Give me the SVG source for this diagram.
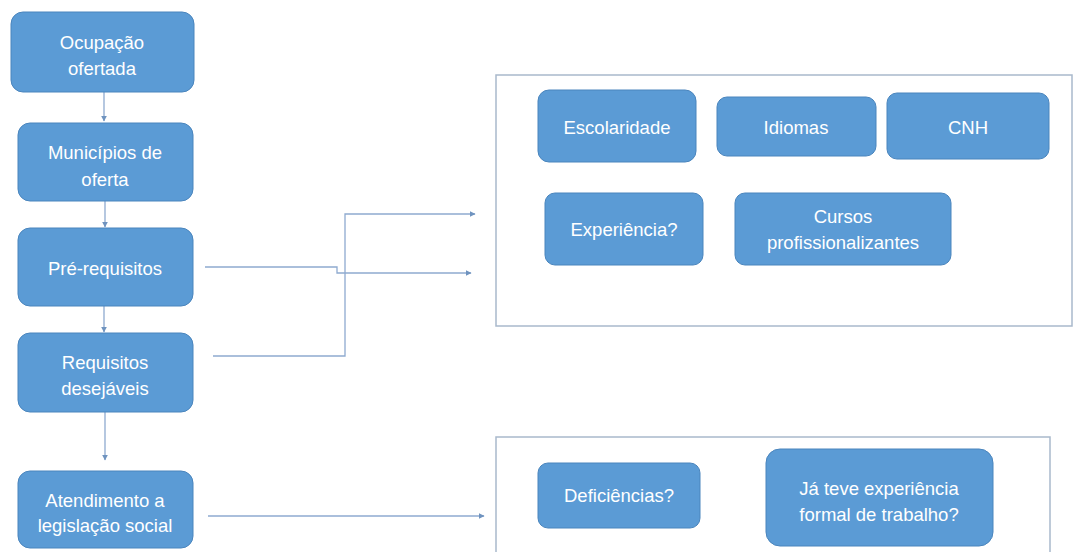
<svg xmlns="http://www.w3.org/2000/svg" width="1073" height="552" viewBox="0 0 1073 552">
<defs>
<marker id="ah" viewBox="0 0 10 10" refX="9" refY="5" markerWidth="6" markerHeight="6" markerUnits="userSpaceOnUse" orient="auto">
<path d="M0,0 L10,5 L0,10 z" fill="#6F93BF"/>
</marker>
<style>
.n{fill:#5B9BD5;stroke:#4A85BD;stroke-width:1}
.t{font-family:"Liberation Sans",Arial,sans-serif;font-size:18.5px;fill:#FFFFFF;text-anchor:middle;dominant-baseline:central}
.c{fill:none;stroke:#8EAAD0;stroke-width:1.3}
.g{fill:#FFFFFF;stroke:#A9B9CC;stroke-width:1.5}
</style>
</defs>
<rect width="1073" height="552" fill="#FFFFFF"/>
<g id="group-prerequisitos">
<rect class="g" x="496" y="75" width="576" height="251"/>
</g>
<g id="group-legislacao">
<rect class="g" x="496" y="437" width="554" height="120"/>
</g>
<g id="connectors">
<path class="c" d="M104,92 V121" marker-end="url(#ah)"/>
<path class="c" d="M105,201 V227" marker-end="url(#ah)"/>
<path class="c" d="M104,306 V332" marker-end="url(#ah)"/>
<path class="c" d="M105,412 V460" marker-end="url(#ah)"/>
<path class="c" d="M205,267 H337 V273 H471" marker-end="url(#ah)"/>
<path class="c" d="M213,356 H345 V214 H475" marker-end="url(#ah)"/>
<path class="c" d="M208,516 H484" marker-end="url(#ah)"/>
</g>
<g id="n-ocupacao">
<rect class="n" x="11" y="12" width="183" height="80" rx="12"/>
<text class="t" x="102" y="42">Ocupação</text>
<text class="t" x="102" y="68">ofertada</text>
</g>
<g id="n-municipios">
<rect class="n" x="18" y="123" width="175" height="78" rx="12"/>
<text class="t" x="105" y="152">Municípios de</text>
<text class="t" x="105" y="179">oferta</text>
</g>
<g id="n-prerequisitos">
<rect class="n" x="18" y="228" width="175" height="78" rx="12"/>
<text class="t" x="105" y="268">Pré-requisitos</text>
</g>
<g id="n-requisitos">
<rect class="n" x="18" y="333" width="175" height="79" rx="12"/>
<text class="t" x="105" y="362">Requisitos</text>
<text class="t" x="105" y="388">desejáveis</text>
</g>
<g id="n-atendimento">
<rect class="n" x="18" y="471" width="175" height="77" rx="12"/>
<text class="t" x="105" y="500">Atendimento a</text>
<text class="t" x="105" y="525">legislação social</text>
</g>
<g id="n-escolaridade">
<rect class="n" x="538" y="90" width="158" height="72" rx="11"/>
<text class="t" x="617" y="127">Escolaridade</text>
</g>
<g id="n-idiomas">
<rect class="n" x="717" y="97" width="159" height="59" rx="10"/>
<text class="t" x="796" y="127">Idiomas</text>
</g>
<g id="n-cnh">
<rect class="n" x="887" y="93" width="162" height="66" rx="10"/>
<text class="t" x="968" y="127">CNH</text>
</g>
<g id="n-experiencia">
<rect class="n" x="545" y="193" width="158" height="72" rx="10"/>
<text class="t" x="624" y="229">Experiência?</text>
</g>
<g id="n-cursos">
<rect class="n" x="735" y="193" width="216" height="72" rx="10"/>
<text class="t" x="843" y="216">Cursos</text>
<text class="t" x="843" y="242">profissionalizantes</text>
</g>
<g id="n-deficiencias">
<rect class="n" x="538" y="463" width="162" height="65" rx="10"/>
<text class="t" x="619" y="495">Deficiências?</text>
</g>
<g id="n-experiencia-formal">
<rect class="n" x="766" y="449" width="227" height="97" rx="14"/>
<text class="t" x="879" y="488">Já teve experiência</text>
<text class="t" x="879" y="514">formal de trabalho?</text>
</g>
</svg>
